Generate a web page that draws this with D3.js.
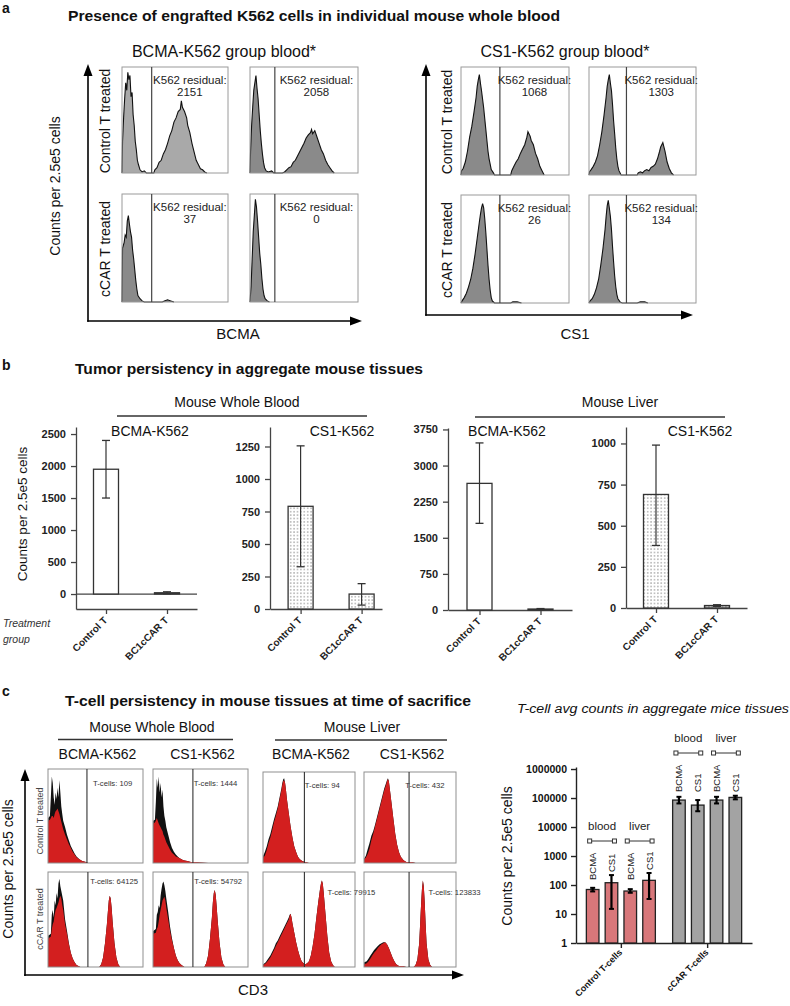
<!DOCTYPE html>
<html><head><meta charset="utf-8">
<script src="https://cdn.jsdelivr.net/npm/d3@7"></script>
<style>body{margin:0;background:#fff}text{font-family:"Liberation Sans",Arial,sans-serif}</style>
</head><body><svg id="fig" width="790" height="1006"></svg>
<script>
// ---------------- DATA ----------------
// Panel a: individual mouse histograms (x: % of channel range, y: % of max count)
const rowLabelsA = ["Control T treated", "cCAR T treated"];
const bcmaResidual = [[2151, 2058], [37, 0]];
const cs1Residual = [[1068, 1303], [26, 134]];
const bcmaGates = [[28, 23], [28, 23]];
const cs1Gates = [[36, 35], [36, 35]];
const histBcmaCtrl1 = [[0,0],[0.5,30],[1.5,52],[2.5,70],[3.5,85],[4.5,78],[5.5,95],[6.5,88],[7.5,92],[8.5,72],[9.5,76],[10.5,55],[11.5,45],[12.5,30],[13.5,22],[14.5,12],[15.5,8],[17,3],[19,1],[21,2],[23,0],[30,0],[31,3],[33,5],[35,10],[37,12],[39,18],[41,22],[43,28],[45,35],[47,40],[49,48],[51,52],[53,58],[55,60],[56,68],[57,62],[59,58],[61,52],[62,45],[64,38],[66,28],[68,20],[70,12],[72,8],[74,4],[76,3],[78,1],[80,0]];
const histBcmaCtrl2 = [[0,0],[0.5,20],[1.5,45],[2.5,62],[3.5,78],[4.5,85],[5.5,92],[6.5,80],[7.5,70],[8.5,55],[9.5,40],[10.5,28],[11.5,18],[12.5,10],[13.5,5],[15,2],[17,1],[20,2],[22,0],[30,0],[32,1],[34,3],[36,5],[38,6],[40,10],[42,12],[44,16],[46,20],[48,24],[50,28],[52,33],[54,36],[56,38],[57,41],[58,37],[60,40],[62,34],[64,28],[66,22],[68,18],[70,12],[72,8],[74,5],[76,2],[78,0]];
const histBcmaCar1 = [[0,0],[0.5,50],[2,55],[3,62],[4,60],[5,75],[6,80],[7,72],[8,65],[9,60],[10,48],[11,40],[12,30],[13,20],[14,12],[15,6],[17,3],[19,1],[21,0],[38,0],[40,1],[43,2],[46,1],[49,0]];
const histBcmaCar2 = [[0,0],[1,15],[2,40],[3,65],[4,80],[5,95],[6,88],[7,75],[8,60],[9,45],[10,35],[11,22],[12,12],[13,6],[14,3],[16,1],[18,0]];
const histCs1Ctrl1 = [[0,0],[0.5,4],[2,6],[4,12],[6,22],[8,35],[10,45],[12,58],[14,72],[15,82],[16,88],[17,93],[18,85],[19,78],[20,70],[21,62],[22,52],[23,42],[24,32],[25,22],[26,15],[27,10],[28,5],[30,2],[31,0],[46,0],[47,4],[49,8],[51,12],[53,15],[55,20],[57,24],[59,28],[61,35],[62,40],[63,38],[64,36],[65,32],[67,28],[69,20],[71,15],[73,8],[75,4],[77,0]];
const histCs1Ctrl2 = [[0,0],[0.5,3],[2,5],[4,8],[6,12],[8,18],[10,28],[12,40],[14,55],[16,72],[17,82],[18,88],[19,93],[20,85],[21,78],[22,65],[23,50],[24,38],[25,25],[26,15],[27,8],[28,4],[30,0],[45,0],[46,2],[48,3],[50,2],[52,4],[54,5],[56,4],[58,7],[60,8],[62,10],[64,15],[66,22],[67,26],[68,28],[69,30],[70,26],[71,22],[73,12],[75,6],[77,2],[79,0]];
const histCs1Car1 = [[0,0],[1,2],[3,5],[5,9],[7,15],[9,22],[11,32],[13,45],[15,60],[17,75],[18,82],[19,88],[20,92],[21,88],[22,78],[23,65],[24,50],[25,35],[26,22],[27,12],[28,5],[29,2],[31,0],[46,0],[48,1],[52,1],[56,0]];
const histCs1Car2 = [[0,0],[1,2],[3,4],[5,8],[7,14],[9,22],[11,35],[13,50],[15,68],[16,80],[17,90],[18,95],[19,88],[20,80],[21,68],[22,52],[23,38],[24,25],[25,15],[26,8],[27,4],[29,1],[31,0],[45,0],[48,1],[52,1],[55,0]];

// Panel b: aggregate tumour counts
const treatmentGroups = ["Control T", "BC1cCAR T"];
const bloodBcmaMean = [1950, 20];
const bloodBcmaErr = [[1500, 2400], [5, 35]];
const bloodCs1Mean = [790, 115];
const bloodCs1Err = [[325, 1255], [30, 195]];
const liverBcmaMean = [2630, 20];
const liverBcmaErr = [[1800, 3470], [10, 30]];
const liverCs1Mean = [690, 15];
const liverCs1Err = [[380, 990], [10, 20]];
const bloodBcmaTicks = [0, 500, 1000, 1500, 2000, 2500];
const bloodCs1Ticks = [0, 250, 500, 750, 1000, 1250];
const liverBcmaTicks = [0, 750, 1500, 2250, 3000, 3750];
const liverCs1Ticks = [0, 250, 500, 750, 1000];

// Panel c: T-cell histograms [x, black (all events), red (gated)]
const tissueHeaders = ["Mouse Whole Blood", "Mouse Liver"];
const tumorHeaders = ["BCMA-K562", "CS1-K562", "BCMA-K562", "CS1-K562"];
const tcellCounts = [[109, 1444, 94, 432], [64125, 54792, 79915, 123833]];
const tcellGates = [[41, 42, 45, 49], [42, 42, 45, 49]];
const tHistBloodBcmaCtrl = [[0,0,0],[0.3,48,45],[2,50,46],[3,70,48],[4,92,50],[5,85,50],[6,70,48],[7,62,52],[8,75,55],[9,68,56],[10,80,58],[11,70,55],[12,88,52],[13,75,48],[14,60,44],[15,52,40],[16,45,36],[18,38,30],[20,30,25],[22,24,20],[24,18,16],[26,14,12],[28,10,9],[30,7,6],[33,4,4],[36,2,2],[40,1,1],[42,0,0]];
const tHistBloodCs1Ctrl = [[0,0,0],[0.3,45,42],[2,46,43],[3,65,45],[4,90,48],[5,80,45],[6,92,42],[7,75,40],[8,85,38],[9,70,36],[10,78,34],[11,60,30],[12,50,28],[13,45,25],[14,38,22],[16,30,18],[18,22,14],[20,16,11],[22,12,9],[24,9,7],[26,7,6],[28,5,5],[32,3,3],[36,2,2],[40,1,1],[44,1,1],[50,0.5,0.5],[58,0,0]];
const tHistLiverBcmaCtrl = [[0,0,0],[0.3,8,6],[2,12,8],[4,18,14],[6,26,22],[8,32,28],[10,40,36],[12,48,45],[14,55,52],[16,62,60],[18,72,70],[20,82,80],[21,88,86],[22,92,90],[23,93,91],[24,88,88],[25,80,80],[26,70,70],[28,55,55],[30,40,40],[32,28,28],[34,18,18],[36,12,12],[38,7,7],[40,4,4],[43,2,2],[46,1,1],[50,0,0]];
const tHistLiverCs1Ctrl = [[0,0,0],[0.3,5,4],[2,8,6],[4,15,10],[6,22,16],[8,30,25],[10,35,32],[12,42,40],[14,50,48],[16,58,56],[18,66,64],[20,74,72],[22,82,80],[24,88,86],[25,91,90],[26,93,92],[27,90,90],[28,82,82],[30,65,65],[32,48,48],[34,32,32],[36,20,20],[38,12,12],[40,7,7],[43,3,3],[46,1,1],[52,1,1],[56,0,0]];
const tHistBloodBcmaCar = [[0,0,0],[0.3,33,30],[3,35,32],[4,55,40],[5,60,45],[6,52,48],[7,70,55],[8,65,60],[9,78,62],[10,72,65],[11,88,68],[12,93,72],[13,85,75],[14,80,72],[15,75,65],[16,70,60],[17,60,52],[18,50,45],[20,38,35],[22,25,24],[24,15,15],[26,9,9],[28,5,5],[30,2,2],[32,1,1],[34,0,0],[54,0,0],[56,3,3],[58,10,10],[60,25,25],[62,45,45],[63,58,58],[64,70,70],[65,75,75],[66,72,72],[67,62,62],[68,48,48],[70,25,25],[72,10,10],[74,3,3],[76,0,0]];
const tHistBloodCs1Car = [[0,0,0],[0.3,38,35],[3,40,36],[4,55,40],[5,58,42],[6,65,48],[7,62,55],[8,75,60],[9,82,65],[10,88,70],[11,90,72],[12,86,74],[13,80,70],[14,72,62],[15,65,56],[16,58,50],[17,50,44],[18,42,38],[20,30,28],[22,20,20],[24,12,12],[26,7,7],[28,4,4],[30,2,2],[33,0,0],[54,0,0],[56,4,4],[58,12,12],[60,30,30],[62,52,52],[63,68,68],[64,78,78],[65,81,81],[66,76,76],[67,64,64],[68,50,50],[70,26,26],[72,10,10],[74,3,3],[76,0,0]];
const tHistLiverBcmaCar = [[0,0,0],[0.3,3,2],[3,5,4],[5,8,6],[8,12,10],[10,16,14],[12,20,18],[14,25,22],[16,28,26],[18,32,30],[20,36,34],[22,40,38],[24,44,42],[26,48,46],[28,52,50],[29,55,54],[30,56,56],[31,52,52],[32,46,46],[34,36,36],[36,26,26],[38,18,18],[40,11,11],[42,6,6],[44,4,4],[46,3,3],[48,4,4],[50,6,6],[52,12,12],[54,22,22],[56,35,35],[58,52,52],[60,68,68],[62,82,82],[63,88,88],[64,91,91],[65,88,88],[66,78,78],[68,55,55],[70,32,32],[72,15,15],[74,6,6],[76,2,2],[78,0,0]];
const tHistLiverCs1Car = [[0,0,0],[0.3,5,3],[3,6,4],[5,9,6],[7,12,9],[9,15,12],[11,18,15],[13,20,17],[15,22,20],[17,24,22],[19,25,24],[21,26,25],[23,26,26],[25,24,24],[27,20,20],[29,15,15],[31,10,10],[33,6,6],[35,3,3],[38,1,1],[42,1,1],[46,0,0],[54,0,0],[56,2,2],[58,8,8],[60,25,25],[61,45,45],[62,65,65],[63,82,82],[64,91,91],[65,85,85],[66,68,68],[67,45,45],[68,25,25],[70,8,8],[72,2,2],[74,0,0]];

// Panel c right: T-cell averages (log scale)
const tcellGroups = ["Control T-cells", "cCAR T-cells"];
const tcellSubs = ["BCMA", "CS1", "BCMA", "CS1"];
const tissuePairs = ["blood", "liver"];
const controlTcellMean = [70, 120, 62, 145];
const controlTcellErr = [[60, 80], [15, 220], [54, 72], [33, 260]];
const carTcellMean = [85000, 57000, 85000, 105000];
const carTcellErr = [[65000, 110000], [35000, 85000], [65000, 110000], [90000, 120000]];
const logTicks = [1, 10, 100, 1000, 10000, 100000, 1000000];

// ---------------- DRAWING ----------------
const svg = d3.select("#fig");
svg.append("rect").attr("width", 790).attr("height", 1006).attr("fill", "#fff");
const defs = svg.append("defs");
const pat = defs.append("pattern").attr("id", "dots").attr("patternUnits", "userSpaceOnUse")
  .attr("width", 3.4).attr("height", 3.4);
pat.append("rect").attr("width", 3.4).attr("height", 3.4).attr("fill", "#fff");
pat.append("circle").attr("cx", 1.7).attr("cy", 1.7).attr("r", 0.6).attr("fill", "#555");
const pat2 = defs.append("pattern").attr("id", "dotsGray").attr("patternUnits", "userSpaceOnUse")
  .attr("width", 3.4).attr("height", 3.4);
pat2.append("rect").attr("width", 3.4).attr("height", 3.4).attr("fill", "#c8c8c8");
pat2.append("circle").attr("cx", 1.7).attr("cy", 1.7).attr("r", 0.6).attr("fill", "#555");

function addText(g, s, x, y, o = {}) {
  const t = g.append("text").text(s)
    .attr("font-size", o.size || 12)
    .attr("font-weight", o.weight || "normal")
    .attr("font-style", o.style || "normal")
    .attr("text-anchor", o.anchor || "start")
    .attr("fill", o.fill || "#111");
  if (o.rotate) t.attr("transform", `translate(${x},${y}) rotate(${o.rotate})`);
  else t.attr("x", x).attr("y", y);
  if (o.len) t.attr("textLength", o.len).attr("lengthAdjust", "spacingAndGlyphs");
  return t;
}
function arrow(g, x1, y1, x2, y2, head = 12, half = 4.5) {
  const a = Math.atan2(y2 - y1, x2 - x1), c = Math.cos(a), s = Math.sin(a);
  const bx = x2 - head * c, by = y2 - head * s;
  g.append("line").attr("x1", x1).attr("y1", y1).attr("x2", bx).attr("y2", by)
    .attr("stroke", "#000").attr("stroke-width", 1.6);
  g.append("path").attr("d", `M${x2},${y2}L${bx - half * s},${by + half * c}L${bx + half * s},${by - half * c}Z`)
    .attr("fill", "#000");
}

// ===== Panel a =====
const gA = svg.append("g");
addText(gA, "a", 2, 13, {size: 14, weight: "bold"});
addText(gA, "Presence of engrafted K562 cells in individual mouse whole blood", 68, 21, {size: 15, weight: "bold", len: 492});

function histPanelA(g, box, data, gate, fill, value) {
  const x = d3.scaleLinear().domain([0, 100]).range([box.x, box.x + box.w]);
  const y = d3.scaleLinear().domain([0, 100]).range([box.y + box.h, box.y]);
  g.append("path").datum(data)
    .attr("d", d3.area().x(d => x(d[0])).y0(y(0)).y1(d => y(d[1])))
    .attr("fill", fill);
  g.append("path").datum(data)
    .attr("d", d3.line().x(d => x(d[0])).y(d => y(d[1])))
    .attr("fill", "none").attr("stroke", "#111").attr("stroke-width", 1.1);
  g.append("rect").attr("x", box.x).attr("y", box.y).attr("width", box.w).attr("height", box.h)
    .attr("fill", "none").attr("stroke", "#9a9a9a").attr("stroke-width", 1);
  g.append("line").attr("x1", x(gate)).attr("x2", x(gate)).attr("y1", box.y).attr("y2", box.y + box.h)
    .attr("stroke", "#444").attr("stroke-width", 1.2);
  const cx = (x(gate) + box.x + box.w) / 2;
  addText(g, "K562 residual:", cx, box.y + 17, {size: 11.5, anchor: "middle", fill: "#222"});
  addText(g, String(value), cx, box.y + 29, {size: 11.5, anchor: "middle", fill: "#222"});
}

const aGroups = [
  {title: "BCMA-K562 group blood*", tx: 224, axisX: 88, axisY: 321, tipTop: 64, tipRight: 362,
   rowLabX: 110, yLabX: 60, xlabel: "BCMA", xlabX: 238,
   cols: [122, 250], colW: [106, 108], rows: [67, 194], rowH: [106, 108],
   hists: [[histBcmaCtrl1, histBcmaCtrl2], [histBcmaCar1, histBcmaCar2]],
   fills: [["#a9a9a9", "#8a8a8a"], ["#8a8a8a", "#8a8a8a"]],
   gates: bcmaGates, values: bcmaResidual},
  {title: "CS1-K562 group blood*", tx: 565, axisX: 426, axisY: 315, tipTop: 64, tipRight: 693,
   rowLabX: 452, yLabX: null, xlabel: "CS1", xlabX: 575,
   cols: [461, 589], colW: [108, 107], rows: [67, 195], rowH: [108, 108],
   hists: [[histCs1Ctrl1, histCs1Ctrl2], [histCs1Car1, histCs1Car2]],
   fills: [["#8a8a8a", "#8a8a8a"], ["#8a8a8a", "#8a8a8a"]],
   gates: cs1Gates, values: cs1Residual}
];
aGroups.forEach(G => {
  addText(gA, G.title, G.tx, 57, {size: 16, anchor: "middle"});
  arrow(gA, G.axisX, G.axisY + 0.8, G.axisX, G.tipTop);
  arrow(gA, G.axisX - 0.8, G.axisY, G.tipRight, G.axisY);
  if (G.yLabX) addText(gA, "Counts per 2.5e5 cells", G.yLabX, 186, {size: 14, anchor: "middle", rotate: -90});
  addText(gA, G.xlabel, G.xlabX, 339, {size: 15, anchor: "middle"});
  rowLabelsA.forEach((lab, r) => {
    addText(gA, lab, G.rowLabX, G.rows[r] + G.rowH[r] / 2 + 1, {size: 14, anchor: "middle", rotate: -90});
    [0, 1].forEach(c => {
      histPanelA(gA, {x: G.cols[c], y: G.rows[r], w: G.colW[c], h: G.rowH[r]},
        G.hists[r][c], G.gates[r][c], G.fills[r][c], G.values[r][c]);
    });
  });
});

// ===== Panel b =====
const gB = svg.append("g");
addText(gB, "b", 2, 370, {size: 14, weight: "bold"});
addText(gB, "Tumor persistency in aggregate mouse tissues", 75, 374, {size: 15, weight: "bold", len: 348});
[[tissueHeaders[0], 237, 117, 367, 416], [tissueHeaders[1], 620, 475, 725, 417]].forEach(h => {
  addText(gB, h[0], h[1], 407, {size: 14, anchor: "middle"});
  gB.append("line").attr("x1", h[2]).attr("x2", h[3]).attr("y1", h[4]).attr("y2", h[4])
    .attr("stroke", "#333").attr("stroke-width", 1.4);
});
addText(gB, "Counts per 2.5e5 cells", 27, 514, {size: 13.5, anchor: "middle", rotate: -90});
addText(gB, "Treatment", 3, 627, {size: 10.5, style: "italic", fill: "#333"});
addText(gB, "group", 3, 643, {size: 10.5, style: "italic", fill: "#333"});

function barChart(cfg, means, errs, ticks, title, pattern) {
  const g = gB.append("g");
  const y = d3.scaleLinear().domain(cfg.dom).range([cfg.yBot, cfg.yTop]);
  const w = cfg.x1 - cfg.x0;
  const pad = (w / 61 - 1) / 2;
  const x = d3.scalePoint().domain(treatmentGroups).range([cfg.x0, cfg.x1]).padding(pad).align(cfg.align);
  const yAx = g.append("g").attr("transform", `translate(${cfg.x0},0)`)
    .call(d3.axisLeft(y).tickValues(ticks).tickFormat(d3.format("d")).tickSize(5).tickSizeOuter(0).tickPadding(5));
  const xAx = g.append("g").attr("transform", `translate(0,${cfg.yBot})`)
    .call(d3.axisBottom(x).tickSize(5).tickSizeOuter(0).tickFormat(""));
  [yAx, xAx].forEach(a => {
    a.selectAll("path,line").attr("stroke", "#444").attr("stroke-width", 1.3);
    a.selectAll("text").attr("font-size", 11).attr("font-weight", "bold").attr("fill", "#222")
      .attr("font-family", '"Liberation Sans",Arial,sans-serif');
  });
  if (cfg.dom[0] < 0) {
    g.append("line").attr("x1", cfg.x0).attr("x2", cfg.x1).attr("y1", y(0)).attr("y2", y(0))
      .attr("stroke", "#444").attr("stroke-width", 1.3);
  }
  const bw = 25;
  treatmentGroups.forEach((grp, i) => {
    const cx = x(grp);
    let fill = "#fff";
    if (pattern) fill = i === 1 && cfg.grayLow ? "url(#dotsGray)" : "url(#dots)";
    g.append("rect").attr("x", cx - bw / 2).attr("width", bw)
      .attr("y", y(means[i])).attr("height", Math.max(0.5, y(0) - y(means[i])))
      .attr("fill", fill).attr("stroke", "#333").attr("stroke-width", 1.3);
    const lo = y(errs[i][0]), hi = y(errs[i][1]);
    g.append("line").attr("x1", cx).attr("x2", cx).attr("y1", lo).attr("y2", hi).attr("stroke", "#333").attr("stroke-width", 1.2);
    [lo, hi].forEach(v => g.append("line").attr("x1", cx - 4).attr("x2", cx + 4).attr("y1", v).attr("y2", v)
      .attr("stroke", "#333").attr("stroke-width", 1.3));
    addText(g, grp, cx + 2, cfg.yBot + 12, {size: 10, weight: "bold", anchor: "end", rotate: -45, fill: "#222"});
  });
  addText(g, title, cfg.titleX, 435.5, {size: 14, anchor: "middle"});
}
barChart({x0: 76, x1: 197, yTop: 427, yBot: 609, dom: [-234, 2610], align: 0.5, titleX: 150},
  bloodBcmaMean, bloodBcmaErr, bloodBcmaTicks, "BCMA-K562", false);
barChart({x0: 270, x1: 382, yTop: 427, yBot: 609, dom: [0, 1400], align: 0.6, titleX: 342},
  bloodCs1Mean, bloodCs1Err, bloodCs1Ticks, "CS1-K562", true);
barChart({x0: 448, x1: 572, yTop: 428, yBot: 610, dom: [0, 3780], align: 0.5, titleX: 507},
  liverBcmaMean, liverBcmaErr, liverBcmaTicks, "BCMA-K562", false);
barChart({x0: 626, x1: 747, yTop: 427, yBot: 608, dom: [0, 1100], align: 0.5, titleX: 700, grayLow: true},
  liverCs1Mean, liverCs1Err, liverCs1Ticks, "CS1-K562", true);

// ===== Panel c (histograms) =====
const gC = svg.append("g");
addText(gC, "c", 2, 696, {size: 14, weight: "bold"});
addText(gC, "T-cell persistency in mouse tissues at time of sacrifice", 65, 706, {size: 15, weight: "bold", len: 406});
[[tissueHeaders[0], 152, 58, 233, 739.5], [tissueHeaders[1], 362, 275, 447, 740]].forEach(h => {
  addText(gC, h[0], h[1], 732, {size: 14, anchor: "middle"});
  gC.append("line").attr("x1", h[2]).attr("x2", h[3]).attr("y1", h[4]).attr("y2", h[4])
    .attr("stroke", "#333").attr("stroke-width", 1.4);
});
const cColX = [48, 153, 263, 364], cColW = [95, 95, 92, 92];
const cRowY = [[769, 769, 772, 772], [872, 872, 872, 872]], cRowH = [[94, 94, 91, 91], [95, 95, 95, 95]];
const cHists = [[tHistBloodBcmaCtrl, tHistBloodCs1Ctrl, tHistLiverBcmaCtrl, tHistLiverCs1Ctrl],
                [tHistBloodBcmaCar, tHistBloodCs1Car, tHistLiverBcmaCar, tHistLiverCs1Car]];
const cLabelPos = [[["end", 0.94, 17], ["end", 0.94, 17], ["end", 0.89, 16], ["end", 0.93, 16]],
                   [["end", 1.0, 12], ["end", 0.99, 12], ["start", 0.70, 23], ["start", 0.70, 23]]];
tumorHeaders.forEach((t, i) => {
  addText(gC, t, cColX[i] + cColW[i] / 2 + 2, 759, {size: 14, anchor: "middle"});
});
arrow(gC, 25, 976, 25, 769);
arrow(gC, 24.2, 975, 464, 975);
addText(gC, "Counts per 2.5e5 cells", 13, 869, {size: 14, anchor: "middle", rotate: -90});
addText(gC, "CD3", 253, 995, {size: 15, anchor: "middle"});
addText(gC, "Control T treated", 43, 821, {size: 9, anchor: "middle", rotate: -90, fill: "#444"});
addText(gC, "cCAR T treated", 43, 919, {size: 9, anchor: "middle", rotate: -90, fill: "#444"});
[0, 1].forEach(r => {
  [0, 1, 2, 3].forEach(c => {
    const box = {x: cColX[c], y: cRowY[r][c], w: cColW[c], h: cRowH[r][c]};
    const x = d3.scaleLinear().domain([0, 100]).range([box.x, box.x + box.w]);
    const y = d3.scaleLinear().domain([0, 100]).range([box.y + box.h, box.y]);
    const data = cHists[r][c];
    gC.append("path").datum(data).attr("d", d3.area().x(d => x(d[0])).y0(y(0)).y1(d => y(d[1]))).attr("fill", "#111");
    gC.append("path").datum(data).attr("d", d3.area().x(d => x(d[0])).y0(y(0)).y1(d => y(d[2]))).attr("fill", "#d31f1f");
    gC.append("rect").attr("x", box.x).attr("y", box.y).attr("width", box.w).attr("height", box.h)
      .attr("fill", "none").attr("stroke", "#8f8f8f").attr("stroke-width", 1);
    const gx = x(tcellGates[r][c]);
    gC.append("line").attr("x1", gx).attr("x2", gx).attr("y1", box.y).attr("y2", box.y + box.h)
      .attr("stroke", "#333").attr("stroke-width", 1.1);
    const lp = cLabelPos[r][c];
    addText(gC, "T-cells: " + tcellCounts[r][c], box.x + box.w * lp[1] - (lp[0] === "end" ? 5 : 0), box.y + lp[2],
      {size: 7.7, anchor: lp[0], fill: "#333"});
  });
});

// ===== Panel c (right bar chart) =====
const gR = svg.append("g");
addText(gR, "T-cell avg counts in aggregate mice tissues", 517, 713, {size: 12.5, style: "italic", len: 272});
addText(gR, "Counts per 2.5e5 cells", 512, 856, {size: 14, anchor: "middle", rotate: -90});
const yL = d3.scaleLog().domain([1, Math.pow(10, 6.07)]).range([943, 767]);
const xG = d3.scalePoint().domain(tcellGroups).range([576, 752]).padding(0.52).align(0.5);
const xS = d3.scaleBand().domain(d3.range(tcellSubs.length)).range([-34.5, 34.5]).paddingInner(0.33);
const yAxR = gR.append("g").attr("transform", "translate(576,0)")
  .call(d3.axisLeft(yL).tickValues(logTicks).tickFormat(d3.format("d")).tickSize(5).tickSizeOuter(0).tickPadding(4));
const xAxR = gR.append("g").attr("transform", "translate(0,943)")
  .call(d3.axisBottom(xG).tickSize(5).tickSizeOuter(0).tickFormat(""));
[yAxR, xAxR].forEach(a => {
  a.selectAll("path,line").attr("stroke", "#222").attr("stroke-width", 1.4);
  a.selectAll("text").attr("font-size", 10.5).attr("font-weight", "bold").attr("fill", "#111")
    .attr("font-family", '"Liberation Sans",Arial,sans-serif');
});
const groupData = [
  {means: controlTcellMean, errs: controlTcellErr, fill: "#d8777a", labBottom: 880},
  {means: carTcellMean, errs: carTcellErr, fill: "#a3a3a3", labBottom: 792}
];
tcellGroups.forEach((grp, gi) => {
  const G = groupData[gi];
  const gc = xG(grp);
  const centers = tcellSubs.map((s, i) => gc + xS(i) + xS.bandwidth() / 2);
  tcellSubs.forEach((s, i) => {
    const x0 = gc + xS(i);
    gR.append("rect").attr("x", x0).attr("width", xS.bandwidth())
      .attr("y", yL(G.means[i])).attr("height", yL(1) - yL(G.means[i]))
      .attr("fill", G.fill).attr("stroke", "#222").attr("stroke-width", 1.3);
    const cx = centers[i], lo = yL(G.errs[i][0]), hi = yL(G.errs[i][1]);
    gR.append("line").attr("x1", cx).attr("x2", cx).attr("y1", lo).attr("y2", hi).attr("stroke", "#000").attr("stroke-width", 2.2);
    [lo, hi].forEach(v => gR.append("line").attr("x1", cx - 2.5).attr("x2", cx + 2.5).attr("y1", v).attr("y2", v)
      .attr("stroke", "#000").attr("stroke-width", 2));
    addText(gR, s, cx + 3.5, Math.min(G.labBottom, hi - 3), {size: 9.5, rotate: -90, fill: "#222"});
  });
  tissuePairs.forEach((t, p) => {
    const a = centers[2 * p] - 3, b = centers[2 * p + 1] + 3, sy = G.labBottom - 39;
    gR.append("line").attr("x1", a).attr("x2", b).attr("y1", sy).attr("y2", sy).attr("stroke", "#333").attr("stroke-width", 1);
    [a, b].forEach(v => gR.append("rect").attr("x", v - 2).attr("y", sy - 2).attr("width", 4).attr("height", 4)
      .attr("fill", "#fff").attr("stroke", "#333").attr("stroke-width", 1));
    addText(gR, t, (a + b) / 2, G.labBottom - 50, {size: 11.5, anchor: "middle", fill: "#222"});
  });
  addText(gR, grp, gc + 2, 953, {size: 9, weight: "bold", anchor: "end", rotate: -45, fill: "#111"});
});
</script></body></html>
